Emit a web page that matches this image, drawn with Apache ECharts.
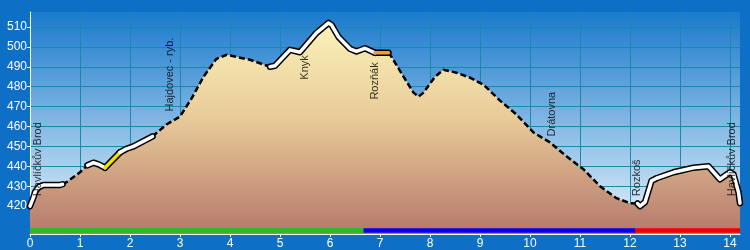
<!DOCTYPE html>
<html>
<head>
<meta charset="utf-8">
<script src="https://cdn.jsdelivr.net/npm/echarts@6/dist/echarts.min.js"></script>
<style>html,body{margin:0;padding:0;background:#0d6fc6;}#c{width:750px;height:250px;}</style>
</head>
<body>
<div id="c"></div>
<script>
// profile (km, m)
const dist = [0, 0.07, 0.1, 0.17, 0.27, 0.6, 0.65, 0.73, 1.0, 1.15, 1.27, 1.37, 1.5, 1.8, 1.93, 2.07, 2.45, 2.73, 3.0, 3.23, 3.47, 3.73, 3.93, 4.4, 4.8, 4.9, 5.2, 5.4, 5.73, 5.97, 6.03, 6.17, 6.4, 6.53, 6.7, 6.9, 7.17, 7.23, 7.47, 7.67, 7.77, 7.87, 8.1, 8.27, 8.53, 8.8, 9.07, 9.4, 9.73, 10.07, 10.4, 10.73, 11.07, 11.4, 11.73, 12.0, 12.15, 12.2, 12.3, 12.43, 12.53, 12.87, 13.27, 13.57, 13.8, 14.0, 14.07, 14.17, 14.2];
const elev = [420, 424.5, 427, 429.5, 430.6, 430.6, 431, 432, 437, 440.5, 441.8, 441, 439.3, 447, 448.8, 450, 455, 461, 465, 474, 485, 494, 496, 493.5, 490, 490.5, 498.5, 497.3, 507, 512, 511, 505, 499, 497.7, 499.3, 497, 497, 495, 485, 477, 475, 477, 485, 488.5, 487, 484.5, 481, 473, 466, 457, 452, 445, 438.5, 430, 424, 421.5, 421.3, 420, 422, 432.7, 434, 437, 439.3, 440, 433.5, 437, 436, 427, 421.5];

// line style segments along the route
const segFrom = [0, 0.65, 1.15, 1.5, 1.8, 2.45, 4.8, 6.9, 7.17, 12.15];
const segTo   = [0.65, 1.15, 1.5, 1.8, 2.45, 4.8, 6.9, 7.17, 12.15, 14.2];
const segKind = ['white', 'dash', 'white', 'yellow', 'white', 'dash', 'white', 'orange', 'dash', 'white'];

// coloured bars along the bottom
const barFrom = [0, 6.67, 12.1];
const barTo = [6.67, 12.1, 14.2];
const barColor = ['#1ec21e', '#0000f0', '#f00000'];
const barLevel = 407.75;

// place names
const placeNames = ['Havlíčkův Brod', 'Hajdovec - ryb.', 'Knyk', 'Rozňák', 'Drátovna', 'Rozkoš', 'Havlíčkův Brod'];
const placeX = [0.15, 2.8, 5.5, 6.9, 10.43, 12.13, 14.03];
const placeY = [425, 467.5, 483.5, 473.5, 455, 425, 425];

// ticks
const xTicks = [0,1,2,3,4,5,6,7,8,9,10,11,12,13,14];
const yTicks = [420,430,440,450,460,470,480,490,500,510];

const profile = dist.map((d, i) => [d, elev[i]]);
function segData(a, b) {
  return profile.filter(p => p[0] >= a - 1e-9 && p[0] <= b + 1e-9);
}

const series = [];
series.push({
  type: 'line', data: profile, symbol: 'none', lineStyle: { width: 0 }, z: 2, silent: true,
  areaStyle: {
    opacity: 1,
    color: new echarts.graphic.LinearGradient(0, 0, 0, 1, [
      { offset: 0, color: '#fbf2b8' },
      { offset: 0.45, color: '#e8cb99' },
      { offset: 1, color: '#b5786b' }
    ])
  }
});
const innerColor = { white: '#ffffff', yellow: '#f2e000', orange: '#f0a030' };
// outlines first
segKind.forEach((k, i) => {
  const data = segData(segFrom[i], segTo[i]);
  if (k === 'dash') {
    series.push({ type: 'line', data, symbol: 'none', z: 4, silent: true,
      lineStyle: { color: '#000', width: 2.5, type: [6, 3], cap: 'butt' } });
  } else {
    series.push({ type: 'line', data, symbol: 'none', z: 3, silent: true,
      lineStyle: { color: '#000', width: 6.5, cap: 'round', join: 'round' } });
    series.push({ type: 'line', data, symbol: 'none', z: 5, silent: true,
      lineStyle: { color: innerColor[k], width: 3.5, cap: 'round', join: 'round' } });
  }
});
barFrom.forEach((a, i) => {
  series.push({ type: 'line', data: [[a, barLevel], [barTo[i], barLevel]], symbol: 'none', z: 6, silent: true,
    lineStyle: { color: barColor[i], width: 4.5, cap: 'butt' } });
});
series.push({
  type: 'scatter', symbolSize: 0, z: 7, silent: true,
  data: placeNames.map((n, i) => ({ value: [placeX[i], placeY[i]], name: n })),
  label: {
    show: true, formatter: p => p.name, rotate: 90, position: [0, 0],
    align: 'left', verticalAlign: 'middle', color: '#000',
    fontFamily: 'Liberation Sans, Arial, sans-serif', fontSize: 11
  }
});

const chart = echarts.init(document.getElementById('c'), null, { renderer: 'canvas' });
chart.setOption({
  backgroundColor: '#0d6fc6',
  animation: false,
  grid: {
    left: 30, right: 10, top: 12, bottom: 15, show: true, borderWidth: 0,
    backgroundColor: new echarts.graphic.LinearGradient(0, 0, 0, 1, [
      { offset: 0, color: '#1a7acc' },
      { offset: 1, color: '#eaf5fc' }
    ])
  },
  xAxis: {
    type: 'value', min: 0, max: 14.2,
    axisLine: { show: true, lineStyle: { color: '#ffffff', width: 1 } },
    axisTick: { show: true, length: 3, customValues: xTicks, lineStyle: { color: '#ffffff' } },
    axisLabel: { customValues: xTicks, color: '#ffffff', fontSize: 12, margin: 4,
      fontFamily: 'Liberation Sans, Arial, sans-serif' },
    splitLine: { show: true, lineStyle: { color: '#1a88a8', width: 1 } }
  },
  yAxis: {
    type: 'value', min: 406, max: 517.5,
    axisLine: { show: true, lineStyle: { color: '#ffffff', width: 1 } },
    axisTick: { show: true, length: 3, customValues: yTicks, lineStyle: { color: '#ffffff' } },
    axisLabel: { customValues: yTicks, color: '#ffffff', fontSize: 12, margin: 3,
      fontFamily: 'Liberation Sans, Arial, sans-serif' },
    splitLine: { show: true, lineStyle: { color: '#1a88a8', width: 1 } }
  },
  series
});
</script>
</body>
</html>
